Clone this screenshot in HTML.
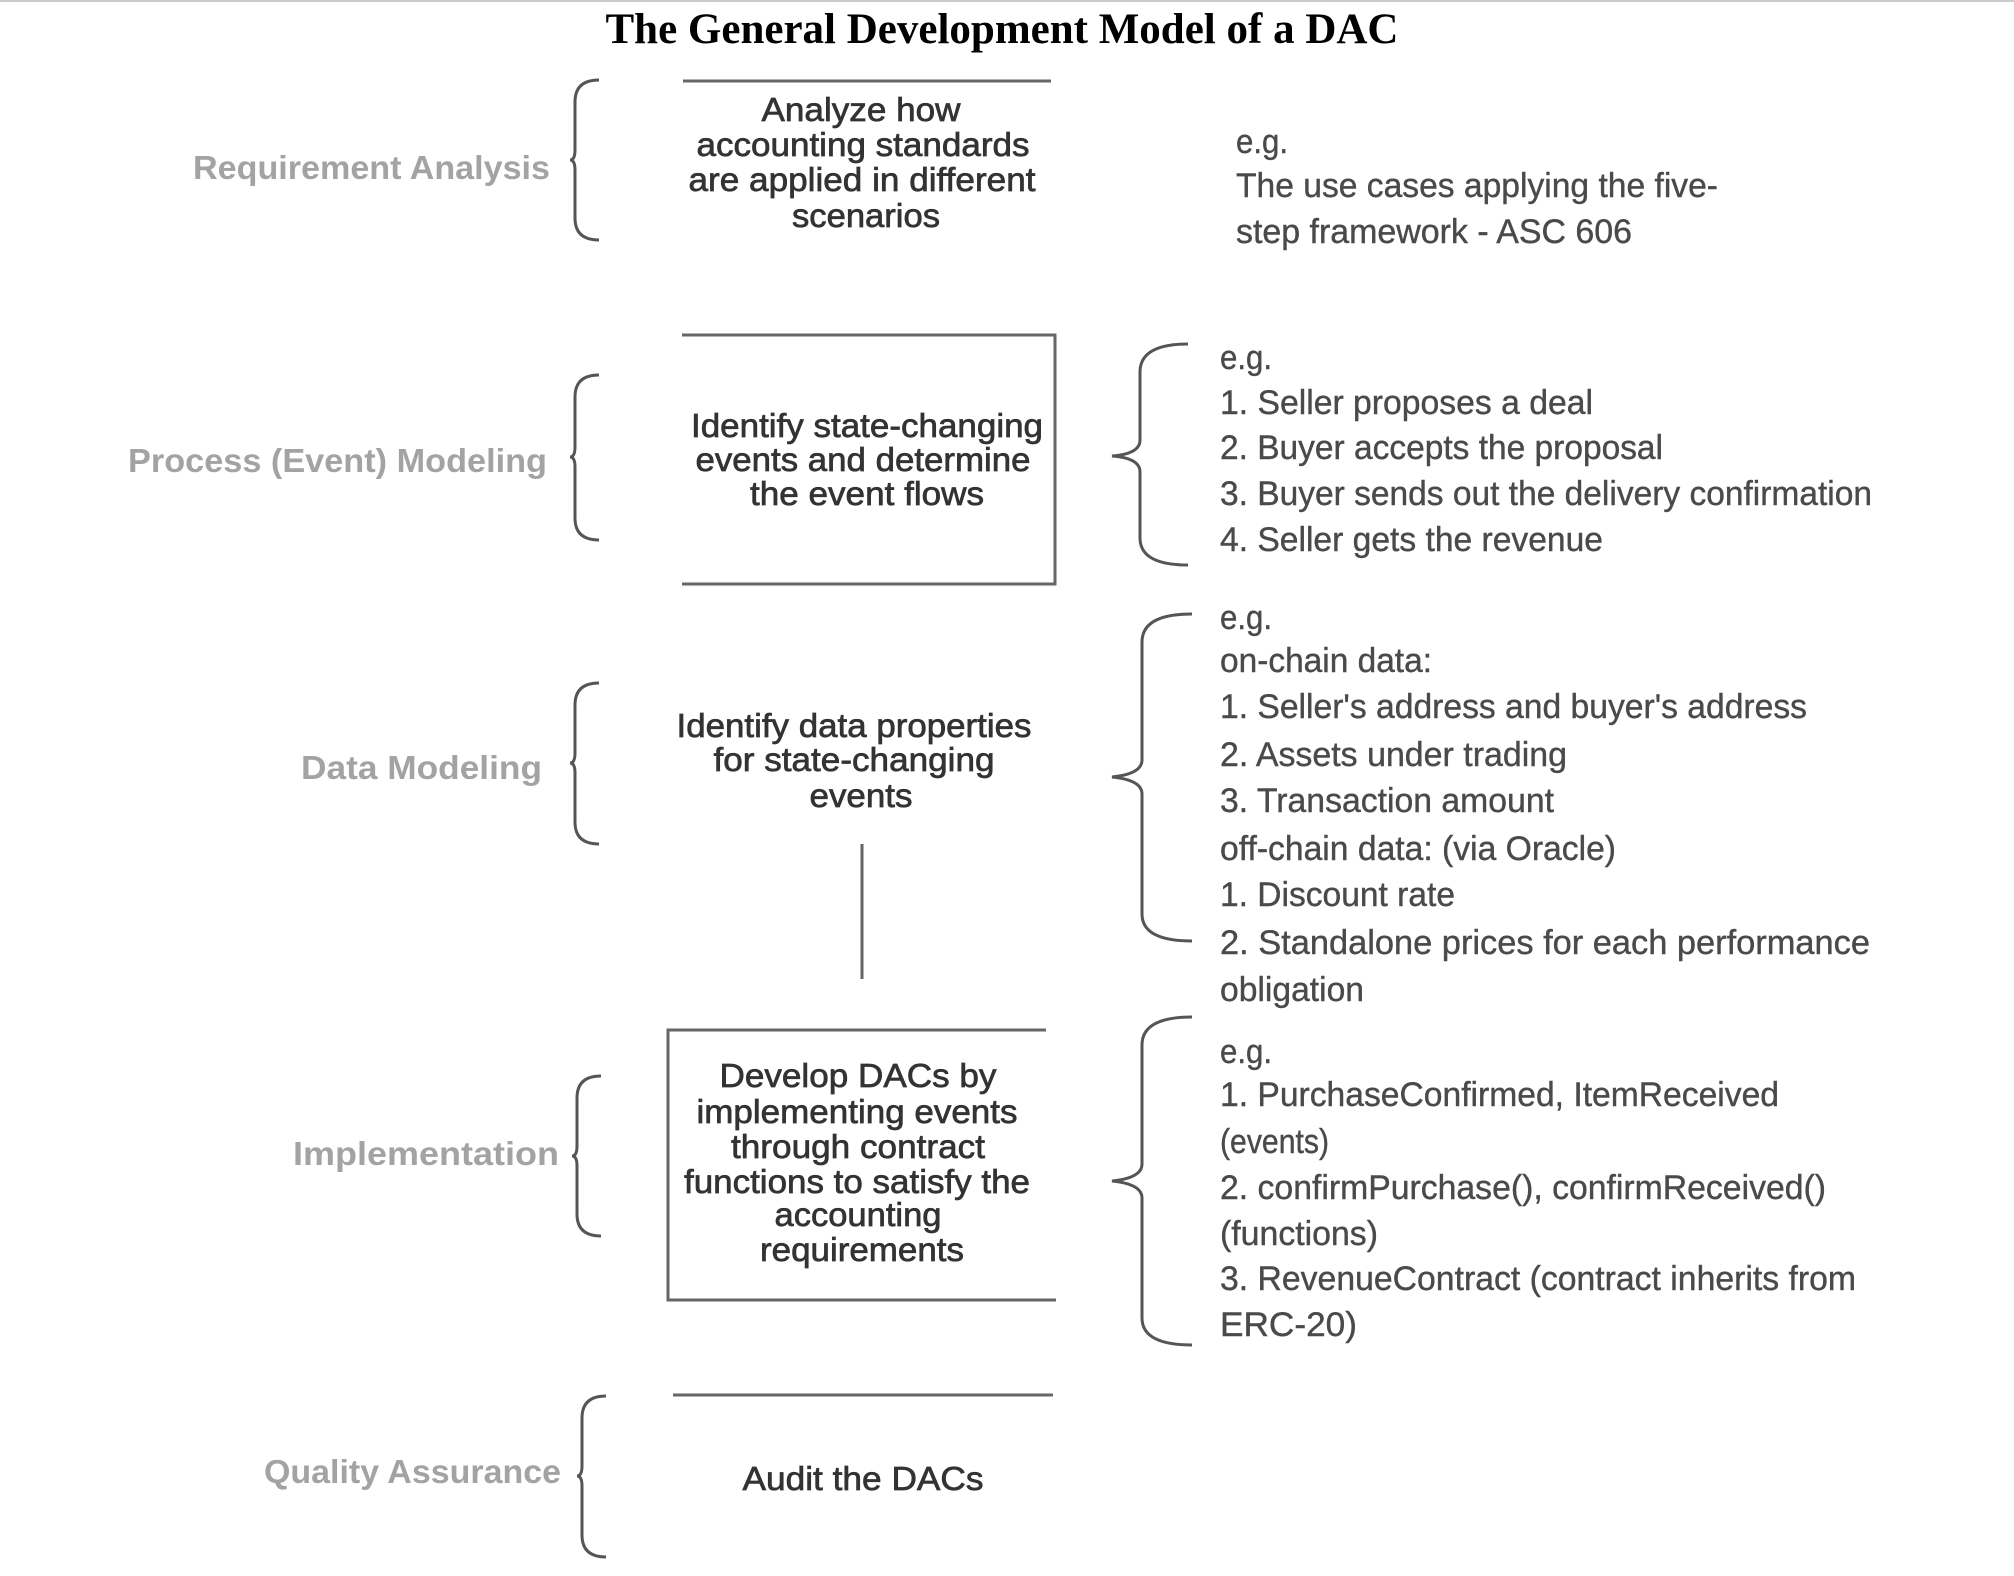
<!DOCTYPE html>
<html><head><meta charset="utf-8"><style>
html,body{margin:0;padding:0;background:#fff;}
svg{display:block;}
.t{font-family:"Liberation Serif",serif;font-weight:bold;font-size:43px;fill:#000;}
.l{font-family:"Liberation Sans",sans-serif;font-weight:bold;font-size:33px;fill:#a3a3a3;}
.b{font-family:"Liberation Sans",sans-serif;font-size:33px;fill:#333;stroke:#333;stroke-width:0.7;text-anchor:middle;}
.r{font-family:"Liberation Sans",sans-serif;font-size:34px;fill:#4a4a4a;stroke:#4a4a4a;stroke-width:0.4;}
.ln{stroke:#666;stroke-width:3;fill:none;}
.br{stroke:#555;stroke-width:3;fill:none;}
</style></head><body>
<svg width="2014" height="1576" viewBox="0 0 2014 1576" xmlns="http://www.w3.org/2000/svg">
<line x1="0" y1="1" x2="2014" y2="1" stroke="#ccc" stroke-width="2"/>
<text class="t" x="1002" y="43" text-anchor="middle">The General Development Model of a DAC</text>

<text class="l" x="550" y="179" text-anchor="end" textLength="357" lengthAdjust="spacingAndGlyphs">Requirement Analysis</text>
<text class="l" x="547" y="472" text-anchor="end" textLength="419" lengthAdjust="spacingAndGlyphs">Process (Event) Modeling</text>
<text class="l" x="542" y="779" text-anchor="end" textLength="241" lengthAdjust="spacingAndGlyphs">Data Modeling</text>
<text class="l" x="559" y="1165" text-anchor="end" textLength="266" lengthAdjust="spacingAndGlyphs">Implementation</text>
<text class="l" x="561" y="1483" text-anchor="end" textLength="297" lengthAdjust="spacingAndGlyphs">Quality Assurance</text>

<path class="br" d="M599,80 Q575,80 575,102 L575,150 Q575,160 570,160 Q575,160 575,170 L575,218 Q575,240 599,240"/>
<path class="br" d="M599,375 Q575,375 575,397 L575,447 Q575,457 570,457 Q575,457 575,467 L575,518 Q575,540 599,540"/>
<path class="br" d="M599,683 Q575,683 575,705 L575,753 Q575,763 570,763 Q575,763 575,773 L575,822 Q575,844 599,844"/>
<path class="br" d="M601,1076 Q577,1076 577,1098 L577,1146 Q577,1156 572,1156 Q577,1156 577,1166 L577,1214 Q577,1236 601,1236"/>
<path class="br" d="M606,1396 Q582,1396 582,1418 L582,1466 Q582,1476 577,1476 Q582,1476 582,1486 L582,1535 Q582,1557 606,1557"/>

<line class="ln" x1="683" y1="81" x2="1051" y2="81"/>
<polyline class="ln" points="682,335 1055,335 1055,584 682,584"/>
<line class="ln" x1="862" y1="844" x2="862" y2="979"/>
<polyline class="ln" points="1046,1030 668,1030 668,1300 1056,1300"/>
<line class="ln" x1="673" y1="1395" x2="1053" y2="1395"/>

<text class="b" x="861" y="121" textLength="199" lengthAdjust="spacingAndGlyphs">Analyze how</text>
<text class="b" x="863" y="156" textLength="333" lengthAdjust="spacingAndGlyphs">accounting standards</text>
<text class="b" x="862" y="191" textLength="347" lengthAdjust="spacingAndGlyphs">are applied in different</text>
<text class="b" x="866" y="227" textLength="148" lengthAdjust="spacingAndGlyphs">scenarios</text>

<text class="b" x="867" y="437" textLength="352" lengthAdjust="spacingAndGlyphs">Identify state-changing</text>
<text class="b" x="863" y="471" textLength="335" lengthAdjust="spacingAndGlyphs">events and determine</text>
<text class="b" x="867" y="505" textLength="234" lengthAdjust="spacingAndGlyphs">the event flows</text>

<text class="b" x="854" y="737" textLength="355" lengthAdjust="spacingAndGlyphs">Identify data properties</text>
<text class="b" x="854" y="771" textLength="281" lengthAdjust="spacingAndGlyphs">for state-changing</text>
<text class="b" x="861" y="807" textLength="103" lengthAdjust="spacingAndGlyphs">events</text>

<text class="b" x="858" y="1087" textLength="277" lengthAdjust="spacingAndGlyphs">Develop DACs by</text>
<text class="b" x="857" y="1123" textLength="321" lengthAdjust="spacingAndGlyphs">implementing events</text>
<text class="b" x="858" y="1158" textLength="254" lengthAdjust="spacingAndGlyphs">through contract</text>
<text class="b" x="857" y="1193" textLength="346" lengthAdjust="spacingAndGlyphs">functions to satisfy the</text>
<text class="b" x="858" y="1226" textLength="167" lengthAdjust="spacingAndGlyphs">accounting</text>
<text class="b" x="862" y="1261" textLength="204" lengthAdjust="spacingAndGlyphs">requirements</text>

<text class="b" x="863" y="1490" textLength="241" lengthAdjust="spacingAndGlyphs">Audit the DACs</text>

<path class="br" d="M1188,344 Q1140,344 1140,372 L1140,440 Q1140,454 1112,456 Q1140,458 1140,472 L1140,538 Q1140,565 1188,565"/>
<path class="br" d="M1192,614 Q1142,614 1142,642 L1142,760 Q1142,774 1112,777 Q1142,780 1142,794 L1142,914 Q1142,941 1192,941"/>
<path class="br" d="M1192,1017 Q1142,1017 1142,1045 L1142,1164 Q1142,1178 1112,1181 Q1142,1184 1142,1198 L1142,1318 Q1142,1345 1192,1345"/>

<text class="r" x="1236" y="153" textLength="52" lengthAdjust="spacingAndGlyphs">e.g.</text>
<text class="r" x="1236" y="197" textLength="482" lengthAdjust="spacingAndGlyphs">The use cases applying the five-</text>
<text class="r" x="1236" y="243" textLength="396" lengthAdjust="spacingAndGlyphs">step framework - ASC 606</text>

<text class="r" x="1220" y="369" textLength="52" lengthAdjust="spacingAndGlyphs">e.g.</text>
<text class="r" x="1220" y="414" textLength="373" lengthAdjust="spacingAndGlyphs">1. Seller proposes a deal</text>
<text class="r" x="1220" y="459" textLength="443" lengthAdjust="spacingAndGlyphs">2. Buyer accepts the proposal</text>
<text class="r" x="1220" y="505" textLength="652" lengthAdjust="spacingAndGlyphs">3. Buyer sends out the delivery confirmation</text>
<text class="r" x="1220" y="551" textLength="383" lengthAdjust="spacingAndGlyphs">4. Seller gets the revenue</text>

<text class="r" x="1220" y="629" textLength="52" lengthAdjust="spacingAndGlyphs">e.g.</text>
<text class="r" x="1220" y="672" textLength="212" lengthAdjust="spacingAndGlyphs">on-chain data:</text>
<text class="r" x="1220" y="718" textLength="587" lengthAdjust="spacingAndGlyphs">1. Seller's address and buyer's address</text>
<text class="r" x="1220" y="766" textLength="347" lengthAdjust="spacingAndGlyphs">2. Assets under trading</text>
<text class="r" x="1220" y="812" textLength="334" lengthAdjust="spacingAndGlyphs">3. Transaction amount</text>
<text class="r" x="1220" y="860" textLength="396" lengthAdjust="spacingAndGlyphs">off-chain data: (via Oracle)</text>
<text class="r" x="1220" y="906" textLength="235" lengthAdjust="spacingAndGlyphs">1. Discount rate</text>
<text class="r" x="1220" y="954" textLength="650" lengthAdjust="spacingAndGlyphs">2. Standalone prices for each performance</text>
<text class="r" x="1220" y="1001" textLength="144" lengthAdjust="spacingAndGlyphs">obligation</text>

<text class="r" x="1220" y="1063" textLength="52" lengthAdjust="spacingAndGlyphs">e.g.</text>
<text class="r" x="1220" y="1106" textLength="559" lengthAdjust="spacingAndGlyphs">1. PurchaseConfirmed, ItemReceived</text>
<text class="r" x="1220" y="1153" textLength="109" lengthAdjust="spacingAndGlyphs">(events)</text>
<text class="r" x="1220" y="1199" textLength="606" lengthAdjust="spacingAndGlyphs">2. confirmPurchase(), confirmReceived()</text>
<text class="r" x="1220" y="1245" textLength="158" lengthAdjust="spacingAndGlyphs">(functions)</text>
<text class="r" x="1220" y="1290" textLength="636" lengthAdjust="spacingAndGlyphs">3. RevenueContract (contract inherits from</text>
<text class="r" x="1220" y="1336" textLength="137" lengthAdjust="spacingAndGlyphs">ERC-20)</text>
</svg>
</body></html>
